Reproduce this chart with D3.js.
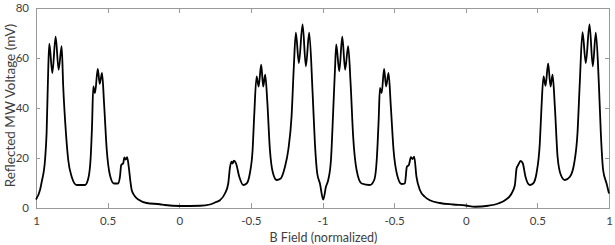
<!DOCTYPE html>
<meta charset="utf-8">
<style>
    body {
        margin: 0;
        background: #fff;
        font-family: Lato, "Liberation Sans", sans-serif;
    }

    .axis path,
    .axis line {
        fill: none;
        stroke: #9a9a9a;
        shape-rendering: crispEdges;
    }

    .axis text {
        fill: #404040;
        font-size: 11.5px;
        font-family: Lato, "Liberation Sans", sans-serif;
    }

    .label {
        fill: #404040;
    }
</style>

<body>
    <script src="https://d3js.org/d3.v7.min.js"></script>
    <script>

        // sweep position along the field scan (0..4) and reflected voltage in mV
        var sweepPos = [
            0, 0.028, 0.04, 0.063, 0.074, 0.086, 0.093, 0.114, 0.137, 0.158, 0.179, 0.19, 0.209, 0.225, 0.249, 0.284,
            0.342, 0.365, 0.382, 0.391, 0.400, 0.412, 0.431, 0.445, 0.461, 0.475, 0.494, 0.516, 0.544, 0.572,
            0.586, 0.595, 0.609, 0.617, 0.626, 0.636, 0.648, 0.66, 0.668, 0.69, 0.72, 0.772, 0.865,
            0.9, 1.005, 1.144, 1.214, 1.25, 1.284, 1.319, 1.342, 1.354, 1.365, 1.372, 1.381, 1.396, 1.419, 1.447, 1.47,
            1.493, 1.512, 1.523, 1.54, 1.554, 1.572, 1.586, 1.6, 1.614, 1.633, 1.652, 1.68, 1.708, 1.738, 1.761,
            1.784, 1.8, 1.814, 1.835, 1.861, 1.884, 1.907, 1.931, 1.947, 1.963, 1.982, 2.005, 2.024, 2.04, 2.059,
            2.075, 2.087, 2.096, 2.117, 2.138, 2.158, 2.179, 2.196, 2.214, 2.238, 2.273, 2.331, 2.361, 2.38, 2.392,
            2.401, 2.413, 2.43, 2.444, 2.461, 2.477, 2.496, 2.521, 2.552, 2.575, 2.589, 2.603, 2.617, 2.628, 2.64,
            2.656, 2.68, 2.714, 2.749, 2.819, 2.912, 3.0, 3.064, 3.157, 3.227, 3.274, 3.32, 3.343, 3.355, 3.366,
            3.383, 3.398, 3.417, 3.447, 3.47, 3.494, 3.517, 3.529, 3.543, 3.557, 3.575, 3.592, 3.606, 3.622, 3.641,
            3.664, 3.692, 3.727, 3.757, 3.78, 3.796, 3.815, 3.838, 3.864, 3.887, 3.908, 3.929, 3.943, 3.959, 3.983, 4.0
        ];
        var voltage = [
            3.2, 7, 10.3, 19, 29.8, 56.5, 65.5, 53.8, 68.3, 55.1, 64.5, 48.4, 29.8, 19, 12.3, 9,
            9, 11.6, 20.3, 32.4, 48.4, 45.8, 55.4, 49.5, 53.8, 41.8, 23, 13, 9.6, 9.6,
            12.3, 17, 17.7, 20, 19.2, 20.1, 16, 10, 7, 4.5, 3, 1.8, 1.3,
            1.0, 0.6, 0.7, 1.2, 2, 2.9, 5.6, 9.6, 16, 18.3, 17.6, 18.7, 17.7, 12.3, 9, 9.6,
            13.7, 23, 36.4, 52.4, 48.4, 57.1, 48.4, 53.1, 43, 23, 14.3, 11, 11.6, 16.3, 23,
            36.4, 56.5, 69.9, 57.8, 73.2, 56.5, 69.9, 45.8, 25.7, 13.7, 9.6, 3.2, 8.3, 11, 19,
            39, 55.1, 65.2, 54.5, 68.3, 55.1, 64.5, 49.8, 28.4, 15, 9.6, 9, 11, 20.3, 35,
            47.8, 45.8, 55.4, 48.4, 53.8, 40.4, 23, 13, 9.4, 9.6, 16.3, 17, 20.1, 19.4, 20.3,
            12.3, 7, 4.3, 2.9, 1.8, 1.2, 0.8, 0.3, 0.7, 1.6, 2.9, 5.6, 9, 15.7, 17,
            18.6, 17.7, 12.3, 9, 9.6, 13.7, 25.7, 40.4, 52.4, 48.7, 57.6, 48.4, 53.1, 40.4, 20.3,
            13, 11, 12.3, 17.7, 29.7, 49.8, 70.1, 57.8, 73.2, 56.5, 69.9, 49.8, 29.7, 15, 9.6, 5.6
        ];

        var xTickPos = [0, 0.5, 1, 1.5, 2, 2.5, 3, 3.5, 4];
        var xTickLabels = ["1", "0.5", "0", "-0.5", "-1", "-0.5", "0", "0.5", "1"];
        var yTicks = [0, 20, 40, 60, 80];

        var margin = { top: 7.5, right: 6, bottom: 37.5, left: 36 },
            width = 615 - margin.left - margin.right,
            height = 245 - margin.top - margin.bottom;

        var x = d3.scaleLinear().domain([0, 4]).range([0, width]);
        var y = d3.scaleLinear().domain([0, 80]).range([height, 0]);

        var svg = d3.select("body").append("svg")
            .attr("width", 615)
            .attr("height", 245)
            .append("g")
            .attr("transform", "translate(" + margin.left + "," + margin.top + ")");

        var data = sweepPos.map((s, i) => ({ s: s, v: voltage[i] }));

        // box axes with inward ticks, like the original plot
        svg.append("g")
            .attr("class", "x axis")
            .attr("transform", "translate(0," + height + ")")
            .call(d3.axisBottom(x).tickValues(xTickPos).tickSize(-5).tickPadding(9)
                .tickFormat((d, i) => xTickLabels[i]));

        svg.append("g")
            .attr("class", "x axis")
            .call(d3.axisTop(x).tickValues(xTickPos).tickSize(-5).tickFormat(""));

        svg.append("g")
            .attr("class", "y axis")
            .call(d3.axisLeft(y).tickValues(yTicks).tickSize(-4).tickPadding(7));

        svg.append("g")
            .attr("class", "y axis")
            .attr("transform", "translate(" + width + ",0)")
            .call(d3.axisRight(y).tickValues(yTicks).tickSize(-4).tickFormat(""));

        var line = d3.line()
            .x(d => x(d.s))
            .y(d => y(d.v))
            .curve(d3.curveMonotoneX);

        svg.append("path")
            .datum(data)
            .attr("d", line)
            .style("fill", "none")
            .style("stroke", "#000")
            .style("stroke-width", 1.8)
            .style("stroke-linejoin", "round");

        svg.append("text")
            .attr("class", "label")
            .attr("x", width / 2 + 1)
            .attr("y", height + 34.5)
            .style("text-anchor", "middle")
            .style("font-size", "12.5px")
            .text("B Field (normalized)");

        svg.append("text")
            .attr("class", "label")
            .attr("transform", "rotate(-90)")
            .attr("x", -height / 2 + 2)
            .attr("y", -21)
            .style("text-anchor", "middle")
            .style("font-size", "13.5px")
            .text("Reflected MW Voltage (mV)");

    </script>
</body>
